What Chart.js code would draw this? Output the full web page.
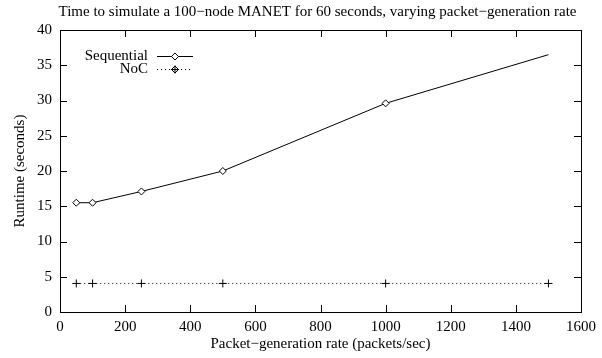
<!DOCTYPE html>
<html>
<head>
<meta charset="utf-8">
<script src="https://cdn.jsdelivr.net/npm/chart.js@4"></script>
<style>
  html, body { margin: 0; padding: 0; background: #fff; overflow: hidden; }
</style>
</head>
<body>
<canvas id="chart" width="602" height="358"></canvas>
<script>
// values
const rates = [50, 100, 250, 500, 1000, 1500];
const sequential = [15.5, 15.5, 17.1, 20.0, 29.6, 36.5];
const noc = [4.05, 4.05, 4.05, 4.05, 4.05, 4.05];
const seriesNames = ['Sequential', 'NoC'];
const chartTitle = 'Time to simulate a 100\u2212node MANET for 60 seconds, varying packet\u2212generation rate';
const xTitle = 'Packet\u2212generation rate (packets/sec)';
const yTitle = 'Runtime (seconds)';

const serif = "'Liberation Serif', 'DejaVu Serif', serif";
Chart.defaults.font.family = serif;
Chart.defaults.font.size = 15;
Chart.defaults.color = '#000';

function pts(ys) {
  return rates.map((x, i) => ({ x: x, y: ys[i] }));
}

// box, inward ticks on all four sides, title and key like gnuplot
const gnuplotFrame = {
  id: 'gnuplotFrame',
  afterDraw(chart) {
    const ctx = chart.ctx;
    const a = chart.chartArea;
    const xs = chart.scales.x, ys = chart.scales.y;
    const tl = 7;
    ctx.save();
    ctx.strokeStyle = '#000';
    ctx.lineWidth = 1;
    ctx.beginPath();
    xs.ticks.forEach(t => {
      const px = Math.round(xs.getPixelForValue(t.value)) + 0.5;
      ctx.moveTo(px, a.bottom); ctx.lineTo(px, a.bottom - tl);
      ctx.moveTo(px, a.top); ctx.lineTo(px, a.top + tl);
    });
    ys.ticks.forEach(t => {
      const py = Math.round(ys.getPixelForValue(t.value)) + 0.5;
      ctx.moveTo(a.left, py); ctx.lineTo(a.left + tl, py);
      ctx.moveTo(a.right, py); ctx.lineTo(a.right - tl, py);
    });
    ctx.stroke();
    ctx.strokeRect(Math.round(a.left) + 0.5, Math.round(a.top) + 0.5,
      Math.round(a.right - a.left), Math.round(a.bottom - a.top));

    // title
    ctx.fillStyle = '#000';
    ctx.font = '15px ' + serif;
    ctx.textAlign = 'center';
    ctx.textBaseline = 'middle';
    ctx.fillText(chartTitle, (a.left + a.right) / 2 - 3, 12);

    // key
    const textRight = a.left + 88;
    const lineL = a.left + 97, lineR = a.left + 133;
    chart.data.datasets.forEach((ds, i) => {
      const y = 56 + i * 13;
      ctx.textAlign = 'right';
      ctx.fillText(ds.label, textRight, y);
      ctx.setLineDash(ds.borderDash || []);
      ctx.strokeStyle = ds.borderColor;
      ctx.beginPath();
      ctx.moveTo(lineL, y + 0.5); ctx.lineTo(lineR, y + 0.5);
      ctx.stroke();
      ctx.setLineDash([]);
      ctx.strokeStyle = '#000';
      ctx.fillStyle = '#fff';
      const mid = (lineL + lineR) / 2;
      Chart.helpers.drawPoint(ctx, { pointStyle: 'rectRot', radius: 3.5, borderWidth: 1, rotation: 0 }, mid, y + 0.5);
      if (ds.pointStyle === 'cross') {
        Chart.helpers.drawPoint(ctx, { pointStyle: 'cross', radius: 4, borderWidth: 1, rotation: 0 }, mid, y + 0.5);
      }
      ctx.fillStyle = '#000';
    });
    ctx.restore();
  }
};

new Chart(document.getElementById('chart'), {
  type: 'scatter',
  data: {
    datasets: [
      {
        label: seriesNames[0],
        data: pts(sequential),
        showLine: true,
        borderColor: '#000',
        borderWidth: 1,
        backgroundColor: '#fff',
        pointStyle: 'rectRot',
        pointRadius: [3.5, 3.5, 3.5, 3.5, 3.5, 0],
        pointBorderWidth: 1,
        pointBorderColor: '#000',
        pointBackgroundColor: '#fff'
      },
      {
        label: seriesNames[1],
        data: pts(noc),
        showLine: true,
        borderColor: '#000',
        borderWidth: 1,
        borderDash: [1, 3],
        backgroundColor: '#000',
        pointStyle: 'cross',
        pointRadius: 4,
        pointBorderWidth: 1,
        pointBorderColor: '#000'
      }
    ]
  },
  options: {
    responsive: false,
    animation: false,
    events: [],
    layout: { padding: { left: 0, right: 14, top: 30, bottom: 0 } },
    plugins: {
      legend: { display: false },
      title: { display: false },
      tooltip: { enabled: false }
    },
    scales: {
      x: {
        type: 'linear',
        min: 0,
        max: 1600,
        ticks: { stepSize: 200, padding: 6, maxRotation: 0, autoSkip: false, callback: v => String(v) },
        grid: { display: false, drawTicks: false },
        border: { display: false },
        title: { display: true, text: xTitle, padding: { top: 0, bottom: 5 } },
        afterFit(s) { s.height = 46; }
      },
      y: {
        min: 0,
        max: 40,
        ticks: { stepSize: 5, padding: 8, callback: v => String(v) },
        grid: { display: false, drawTicks: false },
        border: { display: false },
        title: { display: true, text: yTitle, padding: { top: 11, bottom: 0 } },
        afterFit(s) { s.width = 60; }
      }
    }
  },
  plugins: [gnuplotFrame]
});
</script>
</body>
</html>
